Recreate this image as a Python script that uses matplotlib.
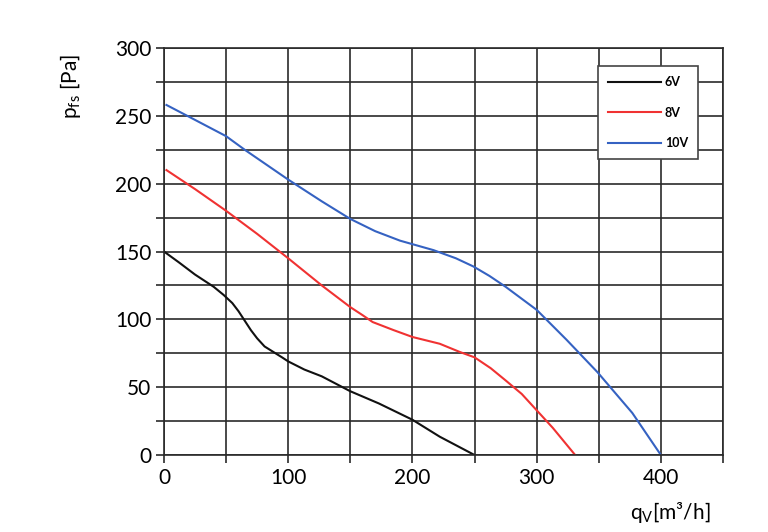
import matplotlib.pyplot as plt
from matplotlib.ticker import MultipleLocator

plt.rcParams['font.family'] = ['Lato', 'DejaVu Sans']

# fan curves: airflow qV [m3/h] vs pressure pfs [Pa]
q_6v = [0, 12, 25, 40, 48, 55, 60, 65, 70, 75, 81, 88, 95, 100, 113, 127, 150, 173, 200, 222, 250]
p_6v = [150, 142, 133, 124, 118, 112, 106, 99, 92, 86, 80, 76, 72, 69, 63, 58, 47, 38, 26, 13.5, 0]

q_8v = [2, 25, 50, 75, 100, 127, 150, 160, 168, 185, 200, 222, 238, 250, 263, 275, 288, 300, 313, 331]
p_8v = [210, 196, 180, 163, 145, 125, 109, 103, 98, 92, 87, 82, 76, 72, 64, 55, 45, 33, 20, 0]

q_10v = [2, 25, 50, 65, 100, 127, 150, 170, 190, 217, 235, 249, 262, 275, 300, 324, 349, 377, 400]
p_10v = [258, 247, 235, 225, 203, 187, 174, 165, 158, 151, 145, 139, 132, 124, 107, 85, 61, 31, 0]

labels = ['6V', '8V', '10V']
grid_c = '#2a2a2a'

fig = plt.figure(figsize=(7.68, 5.32), dpi=100)
ax = fig.add_axes([0.2135, 0.1447, 0.7279, 0.7651])

ax.plot(q_6v, p_6v, color='#111111', lw=1.5, label=labels[0])
ax.plot(q_8v, p_8v, color='#f03232', lw=1.5, label=labels[1])
ax.plot(q_10v, p_10v, color='#3562c2', lw=1.5, label=labels[2])

ax.set_xlim(0, 450)
ax.set_ylim(0, 300)
ax.xaxis.set_major_locator(MultipleLocator(100))
ax.xaxis.set_minor_locator(MultipleLocator(50))
ax.yaxis.set_major_locator(MultipleLocator(50))
ax.yaxis.set_minor_locator(MultipleLocator(25))
ax.grid(True, which='both', color=grid_c, lw=1.2)
ax.tick_params(which='both', direction='out', color=grid_c, width=1.2, length=6)
ax.tick_params(axis='both', labelsize=15, pad=3)
for s in ax.spines.values():
    s.set_color(grid_c)
    s.set_linewidth(1.2)

ax.set_ylabel('p$_{\\mathregular{fs}}$ [Pa]', fontsize=15)
ax.yaxis.set_label_coords(-0.145, 0.905)
ax.set_xlabel('q$_{\\mathregular{V}}$[m³/h]', fontsize=15)
ax.xaxis.set_label_coords(0.905, -0.11)

leg = ax.legend(loc='upper right', bbox_to_anchor=(0.955, 0.956), borderaxespad=0,
                fancybox=False, framealpha=1, edgecolor='#444444',
                prop={'size': 9, 'weight': 'bold'}, handlelength=4.2,
                handletextpad=0.3, labelspacing=1.5, borderpad=0.8)
leg.get_frame().set_linewidth(1.2)

fig.savefig('out.png', dpi=100)
